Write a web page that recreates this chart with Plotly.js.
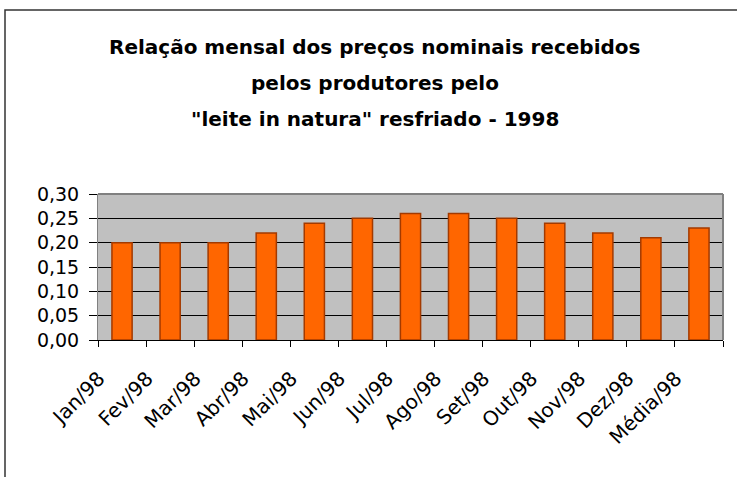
<!DOCTYPE html>
<html>
<head>
<meta charset="utf-8">
<script src="https://cdn.plot.ly/plotly-3.0.1.min.js"></script>
<style>html,body{margin:0;padding:0;background:#fff;}#chart{width:737px;height:477px;}</style>
</head>
<body>
<div id="chart"></div>
<script>
const months = ["Jan/98","Fev/98","Mar/98","Abr/98","Mai/98","Jun/98","Jul/98","Ago/98","Set/98","Out/98","Nov/98","Dez/98","Média/98"];
const prices = [0.20,0.20,0.20,0.22,0.24,0.25,0.26,0.26,0.25,0.24,0.22,0.21,0.23];
const yTickVals = [0,0.05,0.10,0.15,0.20,0.25,0.30];
const yTickText = ["0,00","0,05","0,10","0,15","0,20","0,25","0,30"];
const titleLines = ["Relação mensal dos preços nominais recebidos","pelos produtores pelo","\"leite in natura\" resfriado - 1998"];

const trace = {
  type: "bar",
  x: months,
  y: prices,
  width: 0.42,
  marker: {color: "#ff6600", line: {color: "#a33a00", width: 1.5}},
  hoverinfo: "skip"
};

const titleY = [2.007, 1.760, 1.514];
const annotations = titleLines.map((t, i) => ({
  xref: "paper", yref: "paper", x: 0.443, y: titleY[i],
  xanchor: "center", yanchor: "middle", showarrow: false,
  text: "<b>" + t + "</b>",
  font: {family: "DejaVu Sans", size: 20, color: "#000"}
}));

const layout = {
  width: 737, height: 477,
  margin: {l: 98, r: 14, t: 194, b: 137},
  paper_bgcolor: "#ffffff",
  plot_bgcolor: "#c0c0c0",
  showlegend: false,
  bargap: 0.58,
  xaxis: {
    type: "category",
    showline: true, linecolor: "#000", linewidth: 1,
    ticks: "outside", tickson: "boundaries", ticklen: 6, tickcolor: "#000", tickwidth: 1,
    tickangle: -45,
    tickfont: {family: "DejaVu Sans", size: 20, color: "#000"},
    ticklabelshift: -23,
    ticklabelstandoff: 18,
    showgrid: false,
    zeroline: false,
    fixedrange: true
  },
  yaxis: {
    range: [0, 0.30],
    tickvals: yTickVals, ticktext: yTickText,
    showline: true, linecolor: "#808080", linewidth: 1,
    ticks: "outside", ticklen: 8, tickcolor: "#000", tickwidth: 1,
    ticklabelstandoff: 6,
    tickfont: {family: "DejaVu Sans", size: 19, color: "#000"},
    showgrid: true, gridcolor: "#000", gridwidth: 1,
    zeroline: false,
    fixedrange: true
  },
  shapes: [
    {type: "line", xref: "paper", yref: "paper", x0: 0, x1: 1, y0: 1, y1: 1, line: {color: "#808080", width: 2}},
    {type: "line", xref: "paper", yref: "paper", x0: 1, x1: 1, y0: 0, y1: 1, line: {color: "#808080", width: 2}},
    {type: "rect", xref: "paper", yref: "paper", x0: -0.1488, x1: 1.04, y0: -1.0, y1: 2.26, line: {color: "#333", width: 1.5}, fillcolor: "rgba(0,0,0,0)"}
  ],
  annotations: annotations
};

Plotly.newPlot("chart", [trace], layout, {staticPlot: true, displayModeBar: false});
</script>
</body>
</html>
